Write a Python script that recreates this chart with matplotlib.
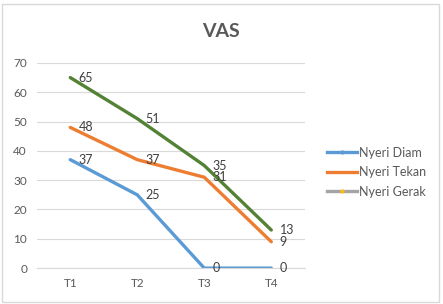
import matplotlib.pyplot as plt
from matplotlib.lines import Line2D
from matplotlib.patches import Rectangle

plt.rcParams['font.family'] = ['Lato', 'DejaVu Sans']

kategori = ["T1", "T2", "T3", "T4"]
nyeri_diam = [37, 25, 0, 0]
nyeri_tekan = [48, 37, 31, 9]
nyeri_gerak = [65, 51, 35, 13]

warna_diam = "#5B9BD5"
warna_tekan = "#ED7D31"
warna_gerak = "#548235"

fig = plt.figure(figsize=(4.43, 3.04), dpi=100)
# border tipis di sekeliling chart
fig.patches.append(Rectangle((0.005, 0.007), 0.986, 0.98, transform=fig.transFigure,
                             fill=False, edgecolor="#D9D9D9", lw=1))
ax = fig.add_axes([0.083, 0.118, 0.605, 0.675])

x = range(len(kategori))
for data, warna in [(nyeri_diam, warna_diam), (nyeri_tekan, warna_tekan), (nyeri_gerak, warna_gerak)]:
    ax.plot(x, data, color=warna, lw=2.4, solid_capstyle="round", zorder=3)
    for xi, yi in zip(x, data):
        ax.annotate(str(yi), (xi, yi), xytext=(6, 0), textcoords="offset points",
                    ha="left", va="center", fontsize=9, color="#404040", zorder=4)

ax.set_xlim(-0.5, 3.5)
ax.set_ylim(0, 70)
ax.set_yticks(range(0, 71, 10))
ax.set_xticks(list(x))
ax.set_xticklabels(kategori)
ax.grid(axis="y", color="#D9D9D9", lw=0.8)
ax.set_axisbelow(True)
for s in ["top", "right", "left"]:
    ax.spines[s].set_visible(False)
ax.spines["bottom"].set_color("#D9D9D9")
ax.tick_params(length=0, labelsize=8.5, colors="#595959", pad=7)

fig.text(0.499, 0.898, "VAS", ha="center", va="center", fontsize=14,
         fontweight="bold", color="#595959")

handles = [
    Line2D([], [], color=warna_diam, lw=2.4, marker="o", markersize=2),
    Line2D([], [], color=warna_tekan, lw=2.4),
    Line2D([], [], color="#A5A5A5", lw=2.4, marker="o", markersize=2,
           markerfacecolor="#FFC000", markeredgecolor="#FFC000"),
]
fig.legend(handles, ["Nyeri Diam", "Nyeri Tekan", "Nyeri Gerak"],
           loc="center left", bbox_to_anchor=(0.738, 0.434), frameon=False,
           fontsize=9, labelcolor="#595959", handlelength=2.4, handletextpad=0.15,
           labelspacing=0.6, borderpad=0, borderaxespad=0)

fig.savefig("out.png", dpi=100)
